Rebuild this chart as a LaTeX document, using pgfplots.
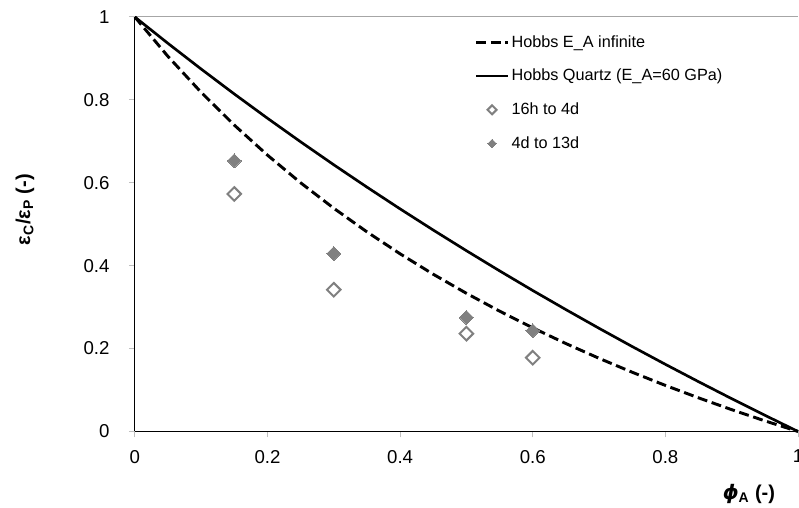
\documentclass[border=0pt]{standalone}
\usepackage{fontspec}
\setmainfont{Liberation Sans}
\newfontfamily\greekfont{DejaVu Sans}
\usepackage{pgfplots}
\pgfplotsset{compat=1.18}

\definecolor{markgray}{HTML}{808080}
\definecolor{tickgray}{HTML}{BFBFBF}
\definecolor{topgray}{HTML}{A6A6A6}

\newcommand{\chartfont}{\fontsize{12.2}{14}\selectfont}
\newcommand{\tickfont}{\fontsize{14}{16}\selectfont}
\newcommand{\labelfont}{\fontsize{15}{17}\selectfont}

\pgfplotsset{
  curve key/.style={legend image code/.code={\draw[##1] (0pt,0pt) -- (24pt,0pt);}},
  diamond key/.style={legend image code/.code={\draw[##1, only marks, mark size=#1] plot coordinates {(12pt,0pt)};}},
}

\begin{document}
\begin{tikzpicture}
\begin{axis}[
  name=ax,
  scale only axis,
  width=498pt, height=311.25pt,
  xmin=0, xmax=1, ymin=0, ymax=1,
  axis lines*=left,
  axis line style={black, line width=0.75pt},
  xtick={0,0.2,0.4,0.6,0.8,1},
  ytick={0,0.2,0.4,0.6,0.8,1},
  tick align=outside,
  major tick length=4.5pt,
  tick style={tickgray, line width=0.75pt},
  /pgf/number format/assume math mode=true,
  /pgf/number format/fixed,
  tick label style={font=\tickfont},
  yticklabel style={xshift=-11pt},
  xticklabel style={yshift=-6pt},
  extra y ticks={1},
  extra y tick labels={},
  extra y tick style={grid=major, major grid style={topgray, line width=0.75pt}, tick style={draw=none}},
  xlabel={{\greekfont\bfseries\itshape ϕ}\textbf{\textsubscript{A} (-)}},
  ylabel={\textbf{ε\textsubscript{C}/ε\textsubscript{P} (-)}},
  xlabel style={at={(axis description cs:0.926,0)}, anchor=center, yshift=-47.25pt, font=\labelfont},
  ylabel style={at={(axis description cs:0,0.535)}, anchor=center, yshift=82.5pt, font=\labelfont},
  legend style={at={(axis description cs:0.512,0.961)}, anchor=north west,
    draw=none, fill=none, font=\chartfont, row sep=12pt, inner sep=0pt,
    nodes={inner sep=1.5pt}},
  legend cell align=left,
  clip=false,
]
% Hobbs model, rigid aggregate
\addplot[black, line width=2.2pt, dash pattern=on 7.5pt off 3.5pt, curve key]
coordinates {
(0,1) (0.05,0.9048) (0.1,0.8182) (0.15,0.7391) (0.2,0.6667) (0.25,0.6)
(0.3,0.5385) (0.35,0.4815) (0.4,0.4286) (0.45,0.3793) (0.5,0.3333)
(0.55,0.2903) (0.6,0.25) (0.65,0.2121) (0.7,0.1765) (0.75,0.1429)
(0.8,0.1111) (0.85,0.0811) (0.9,0.0526) (0.95,0.0256) (1,0)
};
\addlegendentry{Hobbs E\_A infinite}

% Hobbs model, quartz aggregate
\addplot[black, line width=2pt, curve key]
coordinates {
(0,1) (0.05,0.9363) (0.1,0.8744) (0.15,0.8142) (0.2,0.7557) (0.25,0.6988)
(0.3,0.6434) (0.35,0.5895) (0.4,0.5370) (0.45,0.4859) (0.5,0.4361)
(0.55,0.3875) (0.6,0.3401) (0.65,0.2940) (0.7,0.2489) (0.75,0.2049)
(0.8,0.1620) (0.85,0.1201) (0.9,0.0791) (0.95,0.0391) (1,0)
};
\addlegendentry{Hobbs Quartz (E\_A=60 GPa)}

% measured, 16h to 4d
\addplot[only marks, mark=square, mark size=3.6pt,
  mark options={rotate=45, draw=markgray, fill=white, line width=1.5pt},
  diamond key=2.4pt]
coordinates {(0.15,0.573) (0.3,0.342) (0.5,0.236) (0.6,0.178)};
\addlegendentry{16h to 4d}

% measured, 4d to 13d
\addplot[only marks, mark=square*, mark size=3.7pt,
  mark options={rotate=45, draw=markgray, fill=markgray, line width=0pt},
  diamond key=2.3pt]
coordinates {(0.15,0.653) (0.3,0.429) (0.5,0.275) (0.6,0.243)};
\addlegendentry{4d to 13d}
\end{axis}
\pgfresetboundingbox
\path[use as bounding box] (-101.25pt,-57pt) rectangle (498.75pt,324pt);
\end{tikzpicture}
\end{document}
